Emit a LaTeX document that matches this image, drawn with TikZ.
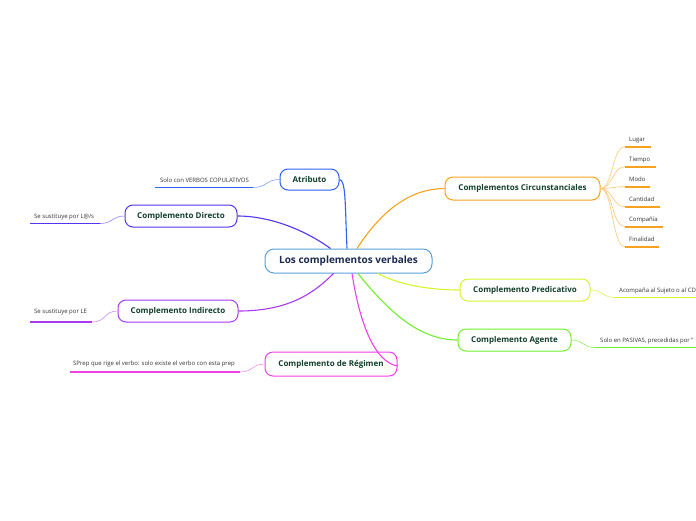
\documentclass[tikz,border=0pt]{standalone}
\usepackage{fontspec}
\setmainfont{Open Sans}
\definecolor{cCentral}{HTML}{5A9FD8}
\definecolor{cCentralTxt}{HTML}{1B2A4E}
\definecolor{cTxt}{HTML}{123F2C}
\definecolor{cLeafTxt}{HTML}{333333}
\definecolor{cAtr}{HTML}{2E62F2}
\definecolor{cDir}{HTML}{5038F0}
\definecolor{cInd}{HTML}{A83AF2}
\definecolor{cReg}{HTML}{F23FE8}
\definecolor{cCirc}{HTML}{F7A21E}
\definecolor{cPred}{HTML}{D6F52E}
\definecolor{cAge}{HTML}{6FEF2E}
\tikzset{
  mainbox/.style={draw, line width=1pt, rounded corners=8pt, fill=white, inner sep=0pt,
    font=\fontsize{8}{9}\selectfont\bfseries, text=cTxt},
  centralbox/.style={draw=cCentral, line width=1pt, rounded corners=9pt, fill=white, inner sep=0pt,
    font=\fontsize{10}{11}\selectfont\bfseries, text=cCentralTxt},
  leaf/.style={font=\fontsize{6}{7}\selectfont, text=cLeafTxt, inner sep=0pt, anchor=base west},
  conn/.style={line width=1.1pt},
  thin/.style={line width=0.6pt},
  ul/.style={line width=1.8pt},
}
\begin{document}
\begin{tikzpicture}[x=1pt,y=-1pt]
\useasboundingbox[fill=white] (0,0) rectangle (696,520);

% central
\node[centralbox, minimum width=167pt, minimum height=24pt] (c) at (348.5,261) {Los complementos verbales};

% main nodes
\node[mainbox, draw=cAtr, minimum width=59pt, minimum height=21pt] (atr) at (309.5,179.5) {Atributo};
\node[mainbox, draw=cDir, minimum width=112pt, minimum height=22pt] (dir) at (181,216) {Complemento Directo};
\node[mainbox, draw=cInd, minimum width=120pt, minimum height=22pt] (ind) at (178,311) {Complemento Indirecto};
\node[mainbox, draw=cReg, minimum width=132pt, minimum height=24pt] (reg) at (331,364) {Complemento de Régimen};
\node[mainbox, draw=cCirc, minimum width=155pt, minimum height=23pt] (circ) at (522.5,188.5) {Complementos Circunstanciales};
\node[mainbox, draw=cPred, minimum width=130pt, minimum height=22pt] (pred) at (525,290) {Complemento Predicativo};
\node[mainbox, draw=cAge, minimum width=113pt, minimum height=22pt] (age) at (514.5,340) {Complemento Agente};

% main connectors
\draw[conn, cAtr] ([xshift=-1.5pt]c.north) .. controls (345,205) and (346,180) .. (atr.east);
\draw[conn, cDir] ([xshift=-18pt]c.north) .. controls (305,230) and (270,216) .. (dir.east);
\draw[conn, cInd] ([xshift=-15pt]c.south) .. controls (315,292) and (290,311) .. (ind.east);
\draw[conn, cReg] ([xshift=3.5pt]c.south) .. controls (360,325) and (375,362) .. ([yshift=-2pt]reg.east);
\draw[conn, cCirc] ([xshift=8.5pt]c.north) .. controls (385,205) and (415,188.5) .. (circ.west);
\draw[conn, cPred] ([xshift=29pt]c.south) .. controls (400,285) and (430,290) .. (pred.west);
\draw[conn, cAge] ([xshift=9.5pt]c.south) .. controls (395,320) and (425,340) .. (age.west);

% leaves: Atributo
\node[leaf] (latr) at (160,182) {Solo con VERBOS COPULATIVOS};
\coordinate (uatrA) at (155,187.5); \coordinate (uatrB) at (253,187.5);
\draw[ul, cAtr] (uatrA) -- (uatrB);
\draw[thin, cAtr!60] (atr.west) .. controls (266,179.5) and (267,187.5) .. (uatrB);

% Directo
\node[leaf] (ldir) at (34,218) {Se sustituye por L@/s};
\coordinate (udirA) at (30,223.5); \coordinate (udirB) at (100,223.5);
\draw[ul, cDir] (udirA) -- (udirB);
\draw[thin, cDir!60] (dir.west) .. controls (112,216) and (113,223.5) .. (udirB);

% Indirecto
\node[leaf] (lind) at (34,313) {Se sustituye por LE};
\coordinate (uindA) at (30,322); \coordinate (uindB) at (92,322);
\draw[ul, cInd] (uindA) -- (uindB);
\draw[thin, cInd!60] (ind.west) .. controls (104,311) and (106,322) .. (uindB);

% Regimen
\node[leaf] (lreg) at (73,365) {SPrep que rige el verbo: solo existe el verbo con esta prep};
\coordinate (uregA) at (70,372); \coordinate (uregB) at (240,372);
\draw[ul, cReg] (uregA) -- (uregB);
\draw[thin, cReg!60] (reg.west) .. controls (252,364) and (253,372) .. (uregB);

% Predicativo
\node[leaf] (lpred) at (619,292) {Acompaña al Sujeto o al CD};
\coordinate (upredA) at (615,297.5); \coordinate (upredB) at (700,297.5);
\draw[ul, cPred] (upredA) -- (upredB);
\draw[thin, cPred!80] (pred.east) .. controls (603,290) and (602,297.5) .. (upredA);

% Agente
\node[leaf] (lage) at (600,342) {Solo en PASIVAS, precedidas por "};
\coordinate (uageA) at (595,347.5); \coordinate (uageB) at (700,347.5);
\draw[ul, cAge] (uageA) -- (uageB);
\draw[thin, cAge!80] (age.east) .. controls (584,340) and (582,347.5) .. (uageA);

% Circunstanciales leaves
\foreach \name/\txt/\yy/\xe in {lug/Lugar/146.7/651, tie/Tiempo/166.7/656, mod/Modo/186.7/650, can/Cantidad/206.7/660, com/Compañía/226.7/663, fin/Finalidad/246.7/659}{
  \node[leaf] (l\name) at (629,\yy-5.5) {\txt};
  \coordinate (u\name A) at (625,\yy);
  \coordinate (u\name B) at (\xe,\yy);
  \draw[ul, cCirc] (u\name A) -- (u\name B);
  \draw[thin, cCirc!60] (circ.east) .. controls (613,188.5) and (612,\yy) .. (u\name A);
}
\end{tikzpicture}
\end{document}
